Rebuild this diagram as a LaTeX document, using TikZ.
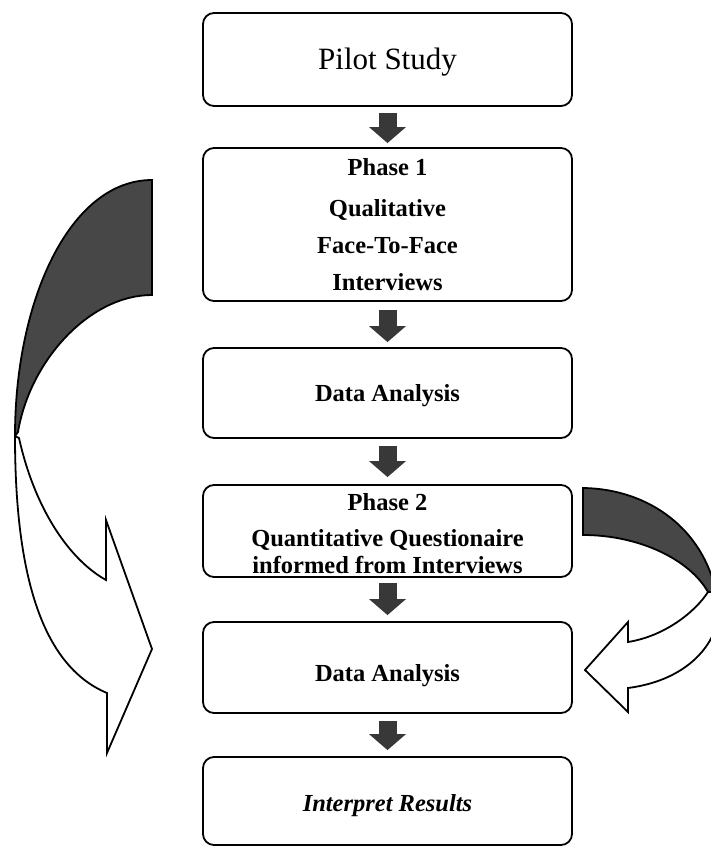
\documentclass[tikz,border=0pt]{standalone}
\usepackage{fontspec}
\setmainfont{Liberation Serif}
\usetikzlibrary{arrows.meta}
\begin{document}
\begin{tikzpicture}[x=1pt,y=-1pt,
  stepbox/.style={draw, line width=1.8pt, rounded corners=11pt, minimum width=369pt, inner sep=0pt},
  steptext/.style={align=center, inner sep=0pt},
  boldtxt/.style={font=\fontsize{24.5}{37}\selectfont\bfseries},
  downarr/.style={line width=18pt, draw=black!78, -{Triangle[width=36pt,length=16pt]}},
  bandline/.style={line width=1.8pt, line join=miter},
  darkfill/.style={fill=black!72}
]
\useasboundingbox (0,0) rectangle (711,847);
\clip (0,0) rectangle (711,847);

% boxes
\node[stepbox, minimum height=93pt] (b1) at (387.5,59.5) {};
\node[stepbox, minimum height=153pt] (b2) at (387.5,224.5) {};
\node[stepbox, minimum height=90pt] (b3) at (387.5,393) {};
\node[stepbox, minimum height=92pt] (b4) at (387.5,531) {};
\node[stepbox, minimum height=91pt] (b5) at (387.5,667.5) {};
\node[stepbox, minimum height=88pt] (b6) at (387.5,801) {};

% texts
\node[steptext, font=\fontsize{31}{37}\selectfont] (t1) at ([yshift=-3pt]b1.center) {Pilot Study};
\node[steptext, boldtxt] (t2) at (b2.center) {Phase 1\\[4pt] Qualitative\\ Face-To-Face\\ Interviews};
\node[steptext, boldtxt] (t3) at ([yshift=-3pt]b3.center) {Data Analysis};
\node[steptext, font=\fontsize{24.5}{27}\selectfont\bfseries] (t4) at ([yshift=-3pt]b4.center) {Phase 2\\[9pt] Quantitative Questionaire\\ informed from Interviews};
\node[steptext, boldtxt] (t5) at ([yshift=-8pt]b5.center) {Data Analysis};
\node[steptext, boldtxt] (t6) at ([yshift=-5pt]b6.center) {\textit{Interpret Results}};

% down arrows
\draw[downarr] ([yshift=-6pt]b1.south) -- ([yshift=4pt]b2.north);
\draw[downarr] ([yshift=-8pt]b2.south) -- ([yshift=5pt]b3.north);
\draw[downarr] ([yshift=-7pt]b3.south) -- ([yshift=7pt]b4.north);
\draw[downarr] ([yshift=-5pt]b4.south) -- ([yshift=6pt]b5.north);
\draw[downarr] ([yshift=-7pt]b5.south) -- ([yshift=6pt]b6.north);

% left curved arrow
\draw[bandline, darkfill] (152,180) .. controls (70,180) and (15,300) .. (15,436)
  -- (18,432) .. controls (30,360) and (90,295) .. (152,295) -- cycle;
\draw[bandline, fill=white] (15,436) .. controls (15,570) and (40,665) .. (107,693)
  -- (107,753) -- (152,649) -- (106,520) -- (106,580)
  .. controls (70,560) and (35,510) .. (19,438) -- cycle;

% right curved arrow
\draw[bandline, darkfill] (583,488) .. controls (650,489) and (703,530) .. (716,592)
  -- (708,592) .. controls (690,560) and (640,535) .. (583,535) -- cycle;
\draw[bandline, fill=white] (708,592) .. controls (695,612) and (665,636) .. (628,642)
  -- (628,622) -- (585,670) -- (628,712) -- (628,688)
  .. controls (690,680) and (725,640) .. (720,592) -- cycle;
\end{tikzpicture}
\end{document}
